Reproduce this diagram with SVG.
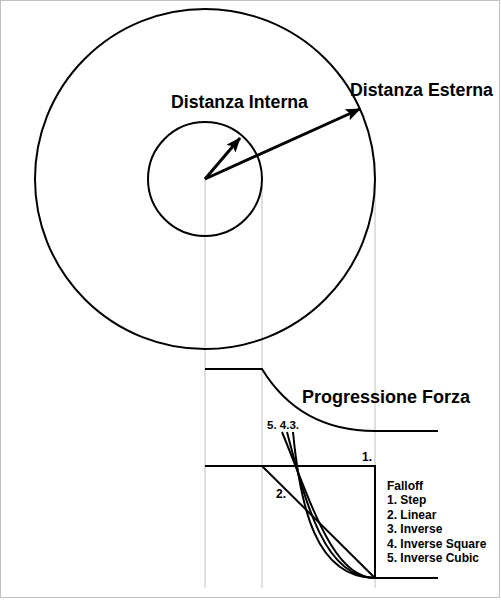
<svg xmlns="http://www.w3.org/2000/svg" width="501" height="600" viewBox="0 0 501 600">
<defs>
<style>
.guide{stroke:#c0c0c0;stroke-width:1;fill:none}
.ln{stroke:#000;stroke-width:2;fill:none}
.arr{stroke:#000;stroke-width:3;fill:none}
.t{font-family:"Liberation Sans",Arial,sans-serif;font-weight:bold;fill:#000}
.big{font-size:18px}
.sm{font-size:12px}
</style>
<marker id="ah" markerUnits="userSpaceOnUse" markerWidth="16" markerHeight="12" viewBox="0 0 16 12" refX="14" refY="6" orient="auto">
<path d="M0,0 L15,6 L0,12 L3,6 Z" fill="#000"/>
</marker>
</defs>
<rect x="0.5" y="0.5" width="499" height="597" fill="#fff" stroke="#c0c0c0"/>
<g id="guides">
<line class="guide" x1="205" y1="179" x2="205" y2="588"/>
<line class="guide" x1="262" y1="179" x2="262" y2="588"/>
<line class="guide" x1="375" y1="179" x2="375" y2="588"/>
</g>
<g id="outer-circle"><circle class="ln" cx="205" cy="179" r="170"/></g>
<g id="inner-circle"><circle class="ln" cx="205" cy="179" r="57"/></g>
<g id="connectors">
<line class="arr" x1="205" y1="179" x2="240" y2="138" marker-end="url(#ah)"/>
<line class="arr" x1="205" y1="179" x2="360" y2="109" marker-end="url(#ah)"/>
</g>
<g id="label-interna"><text class="t big" x="171" y="108" textLength="137" lengthAdjust="spacingAndGlyphs">Distanza Interna</text></g>
<g id="label-esterna"><text class="t big" x="350" y="96" textLength="143" lengthAdjust="spacingAndGlyphs">Distanza Esterna</text></g>
<g id="force-progression">
<path class="ln" d="M205,369 L262,369 Q300,431 375,431 L438,431" stroke-width="2.5"/>
<text class="t big" x="302" y="403">Progressione Forza</text>
</g>
<g id="falloff-graph">
<path class="ln" d="M205,466 L375,466 L375,578 L438,578"/>
<line class="ln" x1="262" y1="466" x2="375" y2="578"/>
<path class="ln" d="M293,432 C300,505 315,578 375,578"/>
<path class="ln" d="M287,432 C306,505 325,578 375,578"/>
<path class="ln" d="M282,432 C312,505 333,578 375,578"/>
<text class="t sm" x="362" y="461">1.</text>
<text class="t sm" x="276" y="498">2.</text>
<text class="t" font-size="11.5" x="267" y="429">5. 4.3.</text>
</g>
<g id="legend">
<text class="t sm" x="387" y="489.5">Falloff</text>
<text class="t sm" x="387" y="504">1. Step</text>
<text class="t sm" x="387" y="518.5">2. Linear</text>
<text class="t sm" x="387" y="533">3. Inverse</text>
<text class="t sm" x="387" y="547.5">4. Inverse Square</text>
<text class="t sm" x="387" y="562">5. Inverse Cubic</text>
</g>
</svg>
